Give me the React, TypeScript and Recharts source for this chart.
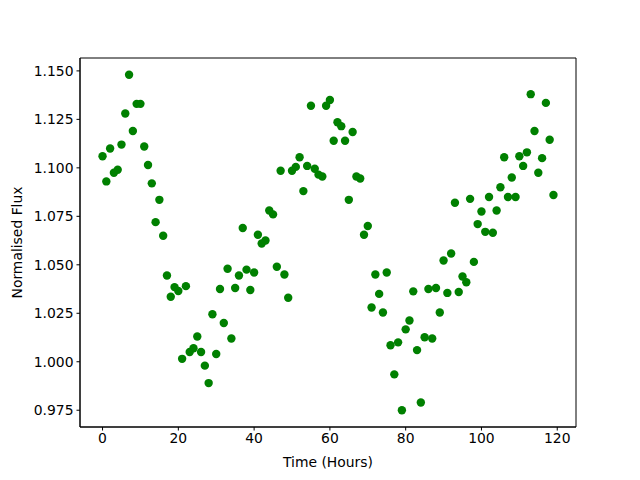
import { ScatterChart, Scatter, XAxis, YAxis, ReferenceArea, Label } from 'recharts';

const hours = [
  0, 1, 2, 3, 4, 5, 6, 7, 8, 9, 10, 11, 12, 13, 14, 15, 16, 17, 18, 19,
  20, 21, 22, 23, 24, 25, 26, 27, 28, 29, 30, 31, 32, 33, 34, 35, 36, 37, 38, 39,
  40, 41, 42, 43, 44, 45, 46, 47, 48, 49, 50, 51, 52, 53, 54, 55, 56, 57, 58, 59,
  60, 61, 62, 63, 64, 65, 66, 67, 68, 69, 70, 71, 72, 73, 74, 75, 76, 77, 78, 79,
  80, 81, 82, 83, 84, 85, 86, 87, 88, 89, 90, 91, 92, 93, 94, 95, 96, 97, 98, 99,
  100, 101, 102, 103, 104, 105, 106, 107, 108, 109, 110, 111, 112, 113, 114, 115, 116, 117, 118, 119,
];

const flux = [
  1.106, 1.093, 1.110, 1.0975, 1.099, 1.112, 1.128, 1.148, 1.119, 1.133,
  1.133, 1.111, 1.1015, 1.092, 1.072, 1.0835, 1.065, 1.0445, 1.0335, 1.0385,
  1.0365, 1.0015, 1.039, 1.005, 1.007, 1.013, 1.005, 0.998, 0.989, 1.0245,
  1.004, 1.0375, 1.020, 1.048, 1.012, 1.038, 1.0445, 1.069, 1.0475, 1.037,
  1.046, 1.0655, 1.061, 1.0625, 1.078, 1.076, 1.049, 1.0985, 1.045, 1.033,
  1.0985, 1.1005, 1.1055, 1.088, 1.101, 1.132, 1.0995, 1.0965, 1.0955, 1.132,
  1.135, 1.114, 1.1235, 1.1215, 1.114, 1.0835, 1.1185, 1.0955, 1.0945, 1.0655,
  1.070, 1.028, 1.045, 1.035, 1.0254, 1.046, 1.0085, 0.9935, 1.010, 0.975,
  1.0167, 1.0213, 1.0363, 1.006, 0.979, 1.0126, 1.0375, 1.012, 1.038, 1.0254,
  1.0522, 1.0355, 1.0558, 1.082, 1.036, 1.044, 1.041, 1.084, 1.0515, 1.071,
  1.0775, 1.067, 1.085, 1.0665, 1.078, 1.090, 1.1055, 1.085, 1.095, 1.085,
  1.106, 1.101, 1.108, 1.138, 1.119, 1.0975, 1.105, 1.1335, 1.1145, 1.086,
];

const xTicks = [0, 20, 40, 60, 80, 100, 120];
const yTicks = [0.975, 1.0, 1.025, 1.05, 1.075, 1.1, 1.125, 1.15];

const xDomain: [number, number] = [-5.95, 124.95];
const yDomain: [number, number] = [0.96635, 1.15665];

const data = hours.map((h, i) => ({ hour: h, flux: flux[i] }));

const font = 'DejaVu Sans, sans-serif';
const tickStyle = { fill: '#000', fontSize: 13.9, fontFamily: font };

const Dot = (props: any) => <circle cx={props.cx} cy={props.cy} r={4.2} fill="#008000" />;

export default function App() {
  return (
    <div style={{ position: 'absolute', left: 0, top: 0, background: '#fff' }}>
      <ScatterChart width={640} height={480} margin={{ top: 58, right: 64, bottom: 0, left: 0 }}>
        <XAxis
          type="number"
          dataKey="hour"
          domain={xDomain}
          ticks={xTicks}
          allowDataOverflow
          height={53}
          tick={tickStyle}
          tickSize={3.5}
          tickMargin={3}
          axisLine={{ stroke: '#000' }}
          tickLine={{ stroke: '#000' }}
        >
          <Label value="Time (Hours)" position="insideBottom" offset={13} style={tickStyle} />
        </XAxis>
        <YAxis
          type="number"
          dataKey="flux"
          domain={yDomain}
          ticks={yTicks}
          allowDataOverflow
          width={80}
          tick={tickStyle}
          tickSize={3.5}
          tickMargin={3}
          tickFormatter={(v: number) => v.toFixed(3)}
          axisLine={{ stroke: '#000' }}
          tickLine={{ stroke: '#000' }}
        >
          <Label
            content={({ viewBox }: any) => {
              const cx = viewBox.x + 17;
              const cy = viewBox.y + viewBox.height / 2;
              return (
                <text
                  x={cx}
                  y={cy}
                  transform={`rotate(-90 ${cx} ${cy})`}
                  textAnchor="middle"
                  dominantBaseline="central"
                  style={tickStyle}
                >
                  Normalised Flux
                </text>
              );
            }}
          />
        </YAxis>
        <ReferenceArea
          x1={xDomain[0]}
          x2={xDomain[1]}
          y1={yDomain[0]}
          y2={yDomain[1]}
          fill="none"
          stroke="#000"
          strokeWidth={1}
          ifOverflow="visible"
        />
        <Scatter data={data} shape={Dot} isAnimationActive={false} />
      </ScatterChart>
    </div>
  );
}
